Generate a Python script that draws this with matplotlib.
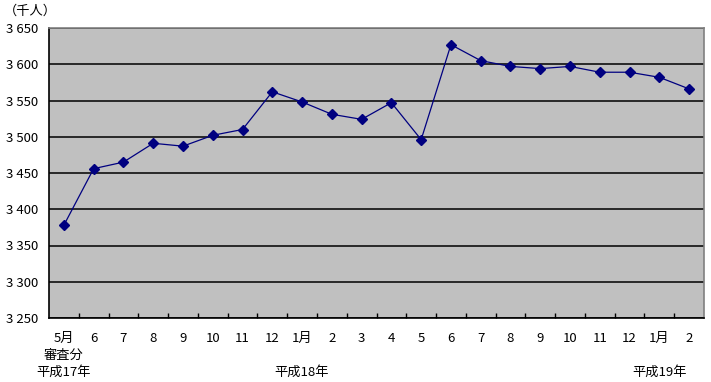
import matplotlib
matplotlib.use("Agg")
import matplotlib.pyplot as plt
from matplotlib.ticker import FixedLocator, FuncFormatter

plt.rcParams['font.family'] = ['Noto Sans CJK JP', 'DejaVu Sans']

months = ["5月", "6", "7", "8", "9", "10", "11", "12", "1月", "2", "3", "4",
          "5", "6", "7", "8", "9", "10", "11", "12", "1月", "2"]
values = [3378, 3456, 3465, 3491, 3487, 3502, 3510, 3562, 3548, 3531, 3524, 3547,
          3496, 3627, 3605, 3597, 3594, 3597, 3589, 3589, 3582, 3566]
yticks = [3250, 3300, 3350, 3400, 3450, 3500, 3550, 3600, 3650]
era_labels = [(0, "平成17年"), (8, "平成18年"), (20, "平成19年")]
sub_label = (0, "審査分")
unit_label = "（千人）"

W, H = 711, 382
fs = 9.5
fig = plt.figure(figsize=(W / 100, H / 100), dpi=100)
L, R, T, B = 49, 704, 28, 318
ax = fig.add_axes([L / W, 1 - B / H, (R - L) / W, (B - T) / H])
ax.set_facecolor("#c0c0c0")

n = len(values)
x = list(range(n))
ax.plot(x, values, color="#000080", lw=0.9, marker="D", ms=4.8,
        mfc="#000080", mec="#000080", zorder=3)

ax.set_xlim(-0.5, n - 0.5)
ax.set_ylim(yticks[0], yticks[-1])
ax.yaxis.set_major_locator(FixedLocator(yticks))
ax.yaxis.set_major_formatter(FuncFormatter(lambda v, p: f"{int(v)//1000} {int(v)%1000:03d}"))
ax.grid(axis="y", color="black", lw=1.1)
ax.tick_params(axis="y", length=0, labelsize=fs, pad=8)

ax.xaxis.set_major_locator(FixedLocator([i + 0.5 for i in range(n - 1)]))
ax.xaxis.set_major_formatter(FuncFormatter(lambda v, p: ""))
ax.tick_params(axis="x", direction="in", length=3.5, width=1, color="black")
ax.set_xticks(x, minor=True)
ax.set_xticklabels(months, minor=True, fontsize=fs)
ax.tick_params(axis="x", which="minor", length=0, pad=10)

for s in ["left", "bottom"]:
    ax.spines[s].set_color("black")
    ax.spines[s].set_linewidth(1.2)
for s in ["top", "right"]:
    ax.spines[s].set_color("#808080")
    ax.spines[s].set_linewidth(1.2)

trans = ax.get_xaxis_transform()
for i, lab in era_labels:
    ax.text(i, -(372 - B) / (B - T), lab, transform=trans, ha="center",
            va="center", fontsize=fs)
ax.text(sub_label[0], -(355 - B) / (B - T), sub_label[1], transform=trans,
        ha="center", va="center", fontsize=fs)

fig.text(4 / W, 1 - 11 / H, unit_label, ha="left", va="center", fontsize=fs)

fig.savefig("out.png", dpi=100)
